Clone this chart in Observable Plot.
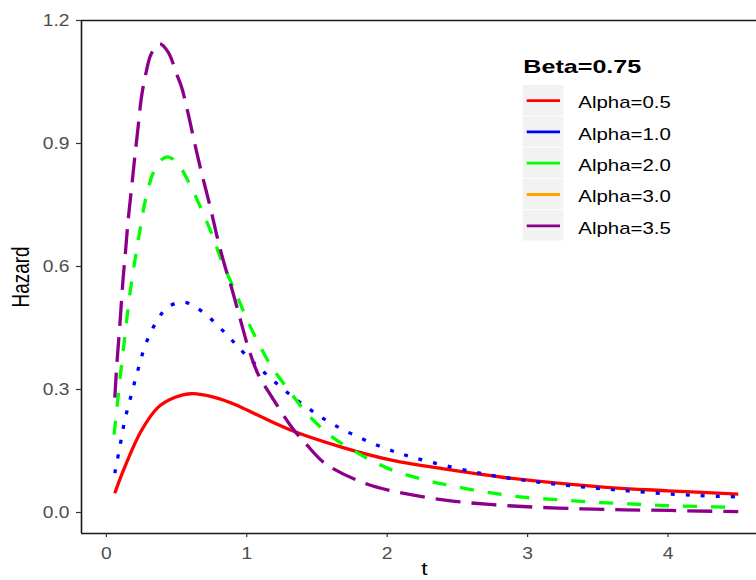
<!DOCTYPE html>
<html><head><meta charset="utf-8">
<script src="https://cdn.jsdelivr.net/npm/d3@7"></script>
<script src="https://cdn.jsdelivr.net/npm/@observablehq/plot@0.6"></script>
<style>
body{margin:0;background:#fff;}
#wrap{width:756px;height:580px;}
</style></head><body><div id="wrap"></div>
<script>
const legendTitle = "Beta=0.75";
const seriesNames = ["Alpha=0.5","Alpha=1.0","Alpha=2.0","Alpha=3.0","Alpha=3.5"];
const seriesColors = ["#FF0000","#0000FF","#00FF00","#FFA500","#8B008B"];
const xTicks = [0,1,2,3,4];
const yTicks = [0,0.3,0.6,0.9,1.2];

const t05 = [0.06,0.13,0.25,0.37,0.49,0.61,0.77,0.92,1.08,1.32,1.68,2.04,2.39,2.82,3.54,4.0,4.5];
const h05 = [0.047,0.11,0.20,0.257,0.281,0.29,0.281,0.263,0.237,0.20,0.159,0.127,0.107,0.086,0.062,0.053,0.045];

const t10 = [0.06,0.095,0.13,0.176,0.226,0.283,0.368,0.437,0.552,0.671,0.837,0.991,1.228,1.418,1.631,1.952,2.2,2.69,3.18,3.67,4.17,4.5];
const h10 = [0.096,0.158,0.223,0.285,0.349,0.413,0.472,0.501,0.513,0.493,0.441,0.385,0.310,0.259,0.212,0.161,0.133,0.094,0.070,0.054,0.042,0.038];

const t20 = [0.055,0.08,0.105,0.13,0.155,0.185,0.215,0.245,0.28,0.335,0.39,0.444,0.51,0.595,0.68,0.75,0.82,0.92,0.99,1.08,1.18,1.30,1.44,1.61,1.80,2.01,2.24,2.49,2.74,2.98,3.23,3.48,3.73,3.96,4.21,4.5];
const h20 = [0.19,0.27,0.35,0.425,0.50,0.575,0.64,0.70,0.765,0.83,0.86,0.867,0.85,0.80,0.737,0.68,0.615,0.537,0.48,0.415,0.354,0.298,0.237,0.184,0.143,0.107,0.082,0.063,0.048,0.037,0.031,0.025,0.021,0.017,0.015,0.012];

const t30 = [];
const h30 = [];

const t35 = [0.06,0.075,0.095,0.12,0.135,0.155,0.18,0.20,0.226,0.25,0.286,0.32,0.38,0.44,0.50,0.536,0.583,0.63,0.68,0.74,0.79,0.845,0.89,0.95,1.01,1.08,1.18,1.32,1.42,1.56,1.85,2.13,2.44,2.75,3.06,3.39,3.69,4.01,4.32,4.5];
const h35 = [0.28,0.363,0.452,0.574,0.631,0.712,0.793,0.859,0.94,1.013,1.078,1.119,1.143,1.123,1.07,1.037,0.972,0.899,0.826,0.745,0.671,0.60,0.55,0.476,0.403,0.338,0.281,0.208,0.168,0.119,0.07,0.046,0.029,0.019,0.013,0.009,0.0066,0.005,0.003,0.002];

const allT = [t05,t10,t20,t30,t35];
const allH = [h05,h10,h20,h30,h35];
const dashes = ["none","4 11","14 14","none","25 11"];

const xDomain = [-0.177, 4.63];
const yDomain = [-0.0512, 1.2];

const lineMarks = allT.map((ts,i) => {
  const rows = ts.map((t,j) => ({t, h: allH[i][j]}));
  return Plot.line(rows, {x:"t", y:"h", stroke: seriesColors[i], strokeWidth: 3.3,
    strokeDasharray: dashes[i], strokeLinecap: "butt", curve: "catmull-rom"});
});

const svg = Plot.plot({
  width: 756, height: 580,
  marginLeft: 81, marginRight: 0, marginTop: 20, marginBottom: 47,
  style: {fontFamily: "'Liberation Sans', Arial, sans-serif", fontSize: "16px", background: "#fff"},
  x: {domain: xDomain},
  y: {domain: yDomain},
  marks: [
    Plot.ruleX([xDomain[0]], {stroke: "#1a1a1a", strokeWidth: 1.6}),
    Plot.ruleY([yDomain[0], yDomain[1]], {stroke: "#1a1a1a", strokeWidth: 1.6}),
    Plot.axisX({ticks: xTicks, tickFormat: d3.format("d"), tickSize: 4, tickPadding: 10, fontSize: 16, stroke: "#333", fill: "#4d4d4d", strokeWidth: 1.2, label: null}),
    Plot.axisY({ticks: yTicks, tickFormat: d3.format(".1f"), tickSize: 5, tickPadding: 7, fontSize: 16, stroke: "#333", fill: "#4d4d4d", strokeWidth: 1.2, label: null}),
    ...lineMarks,
    Plot.text(["Hazard"], {frameAnchor: "left", dx: -60, rotate: -90, fontSize: 23, fill: "#000", textAnchor: "middle"}),
    Plot.text(["t"], {frameAnchor: "bottom", dy: 41, dx: 5.5, fontSize: 19, fill: "#000"})
  ]
});
document.getElementById("wrap").appendChild(svg);

svg.querySelectorAll("text").forEach(el => {
  if (el.textContent === "Hazard") {
    el.setAttribute("textLength", 61);
  } else {
    const len = el.getComputedTextLength();
    el.setAttribute("textLength", (len * 1.2).toFixed(1));
  }
  el.setAttribute("lengthAdjust", "spacingAndGlyphs");
});

// legend
const lg = d3.select(svg).append("g")
  .attr("font-family", "'Liberation Sans', Arial, sans-serif")
  .attr("text-anchor", "start");
lg.append("text").attr("x", 523.3).attr("y", 73.3).attr("font-weight", "bold").attr("font-size", 18.5)
  .attr("text-anchor", "start").attr("fill", "#000")
  .attr("textLength", 118).attr("lengthAdjust", "spacingAndGlyphs").text(legendTitle);
seriesNames.forEach((name, i) => {
  const top = 85 + i * 31.3;
  lg.append("rect").attr("x", 522.7).attr("y", top).attr("width", 40.6).attr("height", 30.3).attr("fill", "#f2f2f2");
  lg.append("line").attr("x1", 526.7).attr("x2", 560).attr("y1", top + 15.6).attr("y2", top + 15.6)
    .attr("stroke", seriesColors[i]).attr("stroke-width", 2.8);
  const tx = lg.append("text").attr("x", 578.3).attr("y", top + 23.3).attr("font-size", 17)
    .attr("text-anchor", "start").attr("fill", "#000").text(name);
  const len = tx.node().getComputedTextLength();
  tx.attr("textLength", (len * 1.2).toFixed(1)).attr("lengthAdjust", "spacingAndGlyphs");
});
</script></body></html>
